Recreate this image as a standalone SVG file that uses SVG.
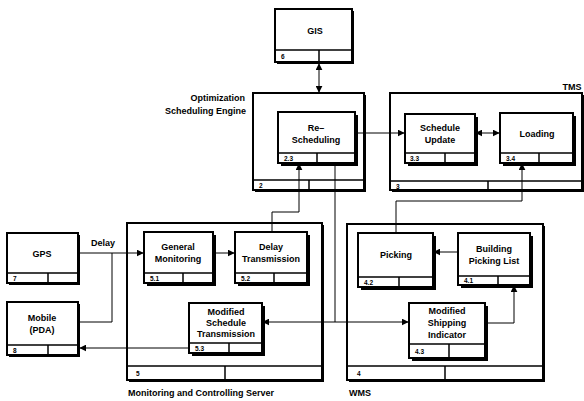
<svg xmlns="http://www.w3.org/2000/svg" width="584" height="401" viewBox="0 0 584 401">
<defs>
<style>
text{font-family:"Liberation Sans",Arial,sans-serif;font-weight:bold;fill:#000}
.t{font-size:9px;text-anchor:middle;dominant-baseline:central}
.n{font-size:6.5px;dominant-baseline:central}
.l{font-size:9px}
.box{fill:#fff;stroke:#000;stroke-width:2}
.sh{fill:#000}
.ln{stroke:#000;stroke-width:1.5;fill:none}
.c{stroke:#000;stroke-width:1;fill:none}
</style>
<marker id="ah" viewBox="0 0 10 10" refX="9" refY="5" markerWidth="7" markerHeight="7" orient="auto-start-reverse" markerUnits="userSpaceOnUse">
<path d="M0,0 L10,5 L0,10 z" fill="#000"/>
</marker>
</defs>
<rect width="584" height="401" fill="#fff"/>

<g id="n2">
<rect class="sh" x="255" y="95" width="111" height="97"/>
<rect class="box" x="253" y="93" width="111" height="97"/>
<line class="ln" x1="253" y1="180" x2="364" y2="180"/>
<line class="ln" x1="309" y1="180" x2="309" y2="190"/>
<text class="n" x="259" y="185.5">2</text>
<text class="l" x="245" y="101" text-anchor="end">Optimization</text>
<text class="l" x="246" y="114" text-anchor="end">Scheduling Engine</text>
</g>

<g id="n3">
<rect class="sh" x="392" y="95" width="192" height="97"/>
<rect class="box" x="390" y="93" width="192" height="97"/>
<line class="ln" x1="390" y1="181" x2="582" y2="181"/>
<line class="ln" x1="488" y1="181" x2="488" y2="190"/>
<text class="n" x="396" y="186">3</text>
<text class="l" x="572" y="90" text-anchor="middle">TMS</text>
</g>

<g id="n5">
<rect class="sh" x="129" y="225" width="195" height="157"/>
<rect class="box" x="127" y="223" width="195" height="157"/>
<line class="ln" x1="127" y1="366" x2="322" y2="366"/>
<line class="ln" x1="225" y1="366" x2="225" y2="380"/>
<text class="n" x="136" y="373">5</text>
<text class="l" x="128" y="396">Monitoring and Controlling Server</text>
</g>

<g id="n4">
<rect class="sh" x="349" y="226" width="196" height="156"/>
<rect class="box" x="347" y="224" width="196" height="156"/>
<line class="ln" x1="347" y1="366" x2="543" y2="366"/>
<line class="ln" x1="445" y1="366" x2="445" y2="380"/>
<text class="n" x="357" y="373">4</text>
<text class="l" x="349" y="396">WMS</text>
</g>

<g id="n6">
<rect class="sh" x="277" y="11" width="77" height="53"/>
<rect class="box" x="275" y="9" width="77" height="53"/>
<line class="ln" x1="275" y1="50" x2="352" y2="50"/>
<line class="ln" x1="319" y1="50" x2="319" y2="62"/>
<text class="t" x="315" y="31">GIS</text>
<text class="n" x="281" y="56.5">6</text>
</g>

<g id="n23">
<rect class="sh" x="281" y="115" width="77" height="51"/>
<rect class="box" x="278" y="112" width="77" height="51"/>
<line class="ln" x1="278" y1="153" x2="355" y2="153"/>
<line class="ln" x1="317" y1="153" x2="317" y2="163"/>
<text class="t" x="316" y="128">Re–</text>
<text class="t" x="316" y="140">Scheduling</text>
<text class="n" x="284" y="158.5">2.3</text>
</g>

<g id="n33">
<rect class="sh" x="408" y="117" width="70" height="49"/>
<rect class="box" x="405" y="114" width="70" height="49"/>
<line class="ln" x1="405" y1="153" x2="475" y2="153"/>
<line class="ln" x1="445" y1="153" x2="445" y2="163"/>
<text class="t" x="440" y="128">Schedule</text>
<text class="t" x="440" y="140">Update</text>
<text class="n" x="410" y="158.5">3.3</text>
</g>

<g id="n34">
<rect class="sh" x="503" y="116" width="73" height="50"/>
<rect class="box" x="500" y="113" width="73" height="50"/>
<line class="ln" x1="500" y1="153" x2="573" y2="153"/>
<line class="ln" x1="539" y1="153" x2="539" y2="163"/>
<text class="t" x="537" y="134">Loading</text>
<text class="n" x="506" y="158.5">3.4</text>
</g>

<g id="n51">
<rect class="sh" x="147" y="235" width="69" height="51"/>
<rect class="box" x="144" y="232" width="69" height="51"/>
<line class="ln" x1="144" y1="273" x2="213" y2="273"/>
<line class="ln" x1="183" y1="273" x2="183" y2="283"/>
<text class="t" x="178" y="247">General</text>
<text class="t" x="178" y="259">Monitoring</text>
<text class="n" x="150" y="278.5">5.1</text>
</g>

<g id="n52">
<rect class="sh" x="238" y="235" width="72" height="51"/>
<rect class="box" x="235" y="232" width="72" height="51"/>
<line class="ln" x1="235" y1="273" x2="307" y2="273"/>
<line class="ln" x1="274" y1="273" x2="274" y2="283"/>
<text class="t" x="271" y="247">Delay</text>
<text class="t" x="271" y="259">Transmission</text>
<text class="n" x="241" y="278.5">5.2</text>
</g>

<g id="n53">
<rect class="sh" x="192" y="306" width="73" height="50"/>
<rect class="box" x="189" y="303" width="73" height="50"/>
<line class="ln" x1="189" y1="343" x2="262" y2="343"/>
<line class="ln" x1="229" y1="343" x2="229" y2="353"/>
<text class="t" x="226" y="312">Modified</text>
<text class="t" x="226" y="323">Schedule</text>
<text class="t" x="226" y="334">Transmission</text>
<text class="n" x="195" y="348.5">5.3</text>
</g>

<g id="n7">
<rect class="sh" x="9" y="235" width="71" height="50"/>
<rect class="box" x="7" y="233" width="71" height="50"/>
<line class="ln" x1="7" y1="273" x2="78" y2="273"/>
<line class="ln" x1="48" y1="273" x2="48" y2="283"/>
<text class="t" x="42" y="254">GPS</text>
<text class="n" x="13" y="278.5">7</text>
</g>

<g id="n8">
<rect class="sh" x="9" y="304" width="71" height="53"/>
<rect class="box" x="7" y="302" width="71" height="53"/>
<line class="ln" x1="7" y1="345" x2="78" y2="345"/>
<line class="ln" x1="48" y1="345" x2="48" y2="355"/>
<text class="t" x="42" y="318">Mobile</text>
<text class="t" x="42" y="330">(PDA)</text>
<text class="n" x="13" y="350">8</text>
</g>

<g id="n42">
<rect class="sh" x="361" y="236" width="75" height="54"/>
<rect class="box" x="358" y="233" width="75" height="54"/>
<line class="ln" x1="358" y1="277" x2="433" y2="277"/>
<line class="ln" x1="399" y1="277" x2="399" y2="287"/>
<text class="t" x="396" y="255">Picking</text>
<text class="n" x="364" y="282">4.2</text>
</g>

<g id="n41">
<rect class="sh" x="461" y="236" width="72" height="52"/>
<rect class="box" x="458" y="233" width="72" height="52"/>
<line class="ln" x1="458" y1="276" x2="530" y2="276"/>
<line class="ln" x1="498" y1="276" x2="498" y2="285"/>
<text class="t" x="494" y="249">Building</text>
<text class="t" x="494" y="261">Picking List</text>
<text class="n" x="464" y="280.5">4.1</text>
</g>

<g id="n43">
<rect class="sh" x="412" y="306" width="76" height="55"/>
<rect class="box" x="409" y="303" width="76" height="55"/>
<line class="ln" x1="409" y1="344" x2="485" y2="344"/>
<line class="ln" x1="449" y1="344" x2="449" y2="358"/>
<text class="t" x="447" y="311">Modified</text>
<text class="t" x="447" y="323">Shipping</text>
<text class="t" x="447" y="335">Indicator</text>
<text class="n" x="415" y="351">4.3</text>
</g>

<g id="connectors">
<line class="c" x1="319" y1="64" x2="319" y2="92" marker-start="url(#ah)" marker-end="url(#ah)"/>
<line class="c" x1="355" y1="133" x2="404" y2="133" marker-end="url(#ah)"/>
<line class="c" x1="476" y1="133" x2="499" y2="133" marker-start="url(#ah)" marker-end="url(#ah)"/>
<polyline class="c" points="396,233 396,201 522,201 522,164" marker-end="url(#ah)"/>
<polyline class="c" points="272,232 272,212 299,212 299,164" marker-end="url(#ah)"/>
<line class="c" x1="335" y1="163" x2="335" y2="322"/>
<line class="c" x1="408" y1="322" x2="263" y2="322" marker-start="url(#ah)" marker-end="url(#ah)"/>
<line class="c" x1="78" y1="253" x2="143" y2="253" marker-end="url(#ah)"/>
<polyline class="c" points="78,322 112,322 112,253"/>
<text class="l" x="103" y="246" text-anchor="middle">Delay</text>
<line class="c" x1="213" y1="253" x2="234" y2="253" marker-end="url(#ah)"/>
<line class="c" x1="458" y1="252" x2="434" y2="252" marker-end="url(#ah)"/>
<polyline class="c" points="485,323 514,323 514,286" marker-end="url(#ah)"/>
<line class="c" x1="189" y1="348" x2="80" y2="348" marker-end="url(#ah)"/>
</g>
</svg>
